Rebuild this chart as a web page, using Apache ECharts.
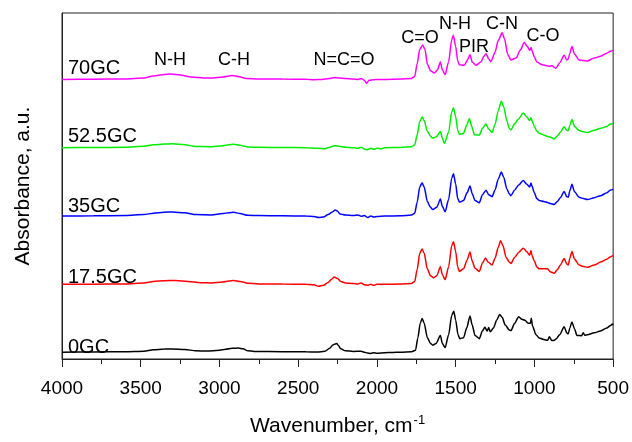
<!DOCTYPE html>
<html>
<head>
<meta charset="utf-8">
<script src="https://cdn.jsdelivr.net/npm/echarts@6/dist/echarts.min.js"></script>
<style>
html,body{margin:0;padding:0;background:#fff;}
#chart{width:632px;height:442px;}
</style>
</head>
<body>
<div id="chart"></div>
<script>
// Series names (bottom to top) and vertical offsets (a.u.)
var seriesNames = ['0GC', '17.5GC', '35GC', '52.5GC', '70GC'];
var seriesColors = ['#000000', '#ff0000', '#0000ff', '#00ee00', '#ff00ff'];
var offsets = [7, 77, 147.5, 218, 288.5];
var xTicks = [4000, 3500, 3000, 2500, 2000, 1500, 1000, 500];

// Spectra: [wavenumber, absorbance above own baseline] (a.u.)
var s0GC = [[4000,0],[3800,0.3],[3600,0.5],[3480,1],[3420,2.5],[3350,3.2],[3300,3.3],[3220,2.8],[3150,1.5],[3080,1.2],[3000,2],[2960,3],[2920,4],[2880,4.3],[2850,3.5],[2820,1.5],[2780,0.8],[2600,0.5],[2450,0.4],[2380,0.2],[2330,1],[2300,4],[2280,7.5],[2265,8.5],[2255,9],[2245,7],[2230,3.5],[2200,1.5],[2150,0.8],[2100,1],[2080,0],[2060,-0.8],[2040,-1.2],[2020,-0.5],[2000,-1],[1950,-0.5],[1900,-0.3],[1850,0],[1780,0.5],[1755,2],[1740,15],[1725,30],[1713,34.7],[1700,30],[1680,15],[1660,9],[1645,7.3],[1625,9],[1597,17.3],[1585,9],[1567,4.7],[1545,18],[1525,38],[1512,42.3],[1500,33],[1485,18],[1474,14],[1450,15],[1430,25],[1409,37.3],[1395,28],[1377,17.3],[1350,14],[1330,22],[1315,25.7],[1300,22],[1290,25.5],[1280,21],[1260,25],[1240,33],[1220,39],[1205,36],[1185,28],[1160,23],[1149,22.3],[1125,30],[1100,36.7],[1080,34],[1060,33],[1040,30],[1025,30],[1020,35],[1012,27],[990,18],[969,14.7],[940,13],[916,12.3],[905,16],[890,12],[874,12.3],[860,14],[840,18],[811,26.3],[795,20],[785,19],[775,25],[762,31.3],[745,24],[730,17.3],[700,17],[690,20],[680,17.5],[663,18],[620,20],[580,22],[540,25],[519,27.3],[505,29],[500,28]];
var s17GC = [[4000,0],[3800,0.2],[3600,0.5],[3480,1.5],[3420,3],[3350,3.8],[3280,4],[3200,3],[3120,1.8],[3050,1.5],[2980,2.5],[2940,3.5],[2910,4],[2870,3],[2820,1.2],[2750,0.5],[2600,0.3],[2450,0.2],[2400,-0.5],[2370,-2],[2340,-1],[2310,2],[2290,5],[2270,7.5],[2250,6],[2230,3],[2200,1.5],[2150,1],[2120,0.5],[2100,1.5],[2080,-0.5],[2060,-1],[2040,0],[2020,-1],[2000,0],[1950,0],[1850,0.3],[1780,1],[1760,3],[1745,15],[1728,32],[1713,36.6],[1700,32],[1680,16],[1660,9],[1640,6.6],[1620,9],[1597,18.3],[1585,10],[1567,5],[1545,18],[1525,40],[1514,44],[1500,34],[1487,18],[1476,13.3],[1450,16],[1428,25],[1409,33.3],[1395,24],[1377,16.6],[1350,13.3],[1330,22],[1310,27.3],[1295,23],[1269,20],[1250,27],[1230,38],[1215,45],[1200,40],[1180,28],[1160,23],[1149,21.6],[1125,28],[1100,33],[1071,37.3],[1050,34],[1030,30],[1022,35],[1016,30],[1000,24],[985,18],[969,16],[950,16],[916,16],[900,13],[874,11.6],[855,15],[835,20],[811,26.6],[795,21],[785,20],[775,27],[762,34],[745,26],[716,20],[690,18.5],[663,17.6],[620,20],[580,23],[540,26],[519,28.3],[500,30]];
var s35GC = [[4000,0],[3800,0.2],[3600,0.5],[3480,1.5],[3420,3],[3350,4],[3300,4.2],[3220,3.3],[3150,1.5],[3050,1.2],[2980,2.5],[2940,3.5],[2910,4],[2870,2.5],[2820,0.8],[2750,0.5],[2600,0.3],[2450,0],[2400,-0.5],[2370,-1.5],[2340,-1],[2310,1.5],[2280,4.5],[2265,6.3],[2250,5],[2235,2],[2200,1],[2150,0.5],[2120,1],[2100,-0.3],[2080,0.5],[2060,-1.5],[2040,0],[2020,-1],[2000,-0.5],[1950,0],[1850,0.3],[1780,1],[1760,3],[1745,14],[1728,30],[1713,34.3],[1700,30],[1680,15],[1660,9],[1645,6.7],[1620,9],[1597,17.7],[1585,10],[1567,4.4],[1545,17],[1525,39],[1514,43.7],[1500,33],[1487,18],[1476,14.4],[1450,16],[1428,24],[1409,31],[1395,23],[1377,16],[1350,13.7],[1330,22],[1307,26.7],[1290,22],[1269,20],[1250,27],[1230,38],[1210,45.4],[1195,40],[1175,28],[1160,23],[1149,21],[1125,27],[1100,32],[1071,36.7],[1050,33],[1030,30],[1022,34],[1016,31],[1000,24],[985,18],[969,16],[940,15],[916,14],[900,13],[874,12],[855,15],[835,19],[811,25.4],[795,20],[785,19.4],[775,26],[762,32.7],[745,25],[716,19.4],[690,18],[663,17],[620,19],[580,21],[540,24],[519,26.7],[500,27.5]];
var s52GC = [[4000,0],[3800,0.2],[3600,0.5],[3480,1.5],[3420,3],[3350,3.8],[3300,4],[3220,3],[3150,1.3],[3050,1],[2980,2],[2940,3],[2910,3.5],[2870,2.5],[2820,0.8],[2750,0.4],[2600,0.2],[2450,0],[2380,-0.5],[2330,-1],[2300,0.5],[2270,2],[2240,1.5],[2200,0.5],[2150,0],[2120,-0.5],[2100,0.5],[2080,-1.5],[2060,-2],[2040,-0.5],[2020,-1.5],[2000,-0.5],[1970,-1],[1950,0],[1850,0.3],[1780,1],[1760,3],[1745,13],[1728,27],[1713,31.7],[1700,28],[1680,17],[1660,12],[1648,10],[1625,11],[1597,16.7],[1585,10],[1572,4.4],[1545,16],[1525,37],[1514,41],[1500,32],[1487,18],[1476,13.7],[1450,15],[1428,24],[1413,30],[1398,22],[1381,13.4],[1350,13],[1330,20],[1307,24.4],[1290,19],[1269,15.7],[1250,24],[1230,38],[1210,48],[1195,42],[1175,28],[1160,20],[1149,18.4],[1125,25],[1100,30],[1071,35.7],[1050,32],[1030,28],[1022,31],[1016,28],[1000,22],[985,17],[969,15],[940,13],[916,11.7],[900,11],[874,9],[855,12],[835,16],[811,21.7],[795,18],[785,17.7],[775,23],[762,29],[745,22],[716,17.7],[690,16.5],[663,15.7],[620,18],[580,20],[540,22],[519,24.4],[500,25]];
var s70GC = [[4000,0],[3800,0.2],[3600,0.5],[3480,1.5],[3420,3.5],[3350,5],[3310,5.5],[3250,4.5],[3180,2.5],[3100,1.5],[3040,1.5],[2980,2.5],[2940,3.5],[2920,4],[2880,3],[2830,1],[2750,0.5],[2600,0.3],[2450,0.2],[2400,-0.3],[2350,0],[2300,1],[2270,2],[2240,1.5],[2200,0.8],[2150,0.3],[2120,0],[2100,0.8],[2080,-1],[2066,-4],[2050,-1],[2020,-0.5],[2000,0],[1950,0],[1850,0.3],[1780,1],[1760,3],[1745,16],[1728,31],[1709,35.5],[1695,31],[1680,16],[1660,9],[1635,6.5],[1615,10],[1597,18],[1585,10],[1567,5],[1545,18],[1525,41],[1515,45.5],[1500,34],[1487,19],[1476,15],[1445,14.5],[1425,20],[1409,25.5],[1395,18],[1371,14.5],[1340,18],[1320,24],[1307,26.5],[1290,21],[1276,18.5],[1250,28],[1230,40],[1205,48],[1190,42],[1170,26],[1149,20],[1117,22],[1090,30],[1065,38],[1045,34],[1030,30],[1020,33],[1014,29],[1000,23],[985,18],[950,15],[906,13.5],[890,14],[864,11.5],[840,17],[811,25],[795,20],[785,21],[775,27],[762,34],[745,26],[716,20],[690,19.5],[665,19],[620,22],[580,24],[540,27],[519,29],[500,30]];
var spectra = [s0GC, s17GC, s35GC, s52GC, s70GC];

// Band annotations
var bandLabels = ['N-H', 'C-H', 'N=C=O', 'C=O', 'N-H', 'PIR', 'C-N', 'C-O'];

var FONT = '"Liberation Sans", Arial, sans-serif';
var chart = echarts.init(document.getElementById('chart'), null, {renderer: 'canvas'});

var series = spectra.map(function (s, i) {
  return {
    name: seriesNames[i],
    type: 'line',
    showSymbol: false,
    symbol: 'none',
    smooth: 0.25,
    smoothMonotone: 'x',
    lineStyle: {color: seriesColors[i], width: 1.5},
    data: s.map(function (p) { return [p[0], p[1] + offsets[i]]; }),
    animation: false
  };
});

// text positions
var seriesLabelPos = [[68, 347], [68, 277], [68, 206], [68, 136], [68, 68]];
var bandPos = [[170, 60], [234, 60], [344, 60], [420, 38], [455, 24], [474, 47], [502, 24], [543, 36]];
var graphics = [];
seriesNames.forEach(function (n, i) {
  graphics.push({type: 'text', left: seriesLabelPos[i][0], top: seriesLabelPos[i][1] - 10,
    style: {text: n, font: '20px ' + FONT, fill: '#000', textVerticalAlign: 'top'}});
});
bandLabels.forEach(function (n, i) {
  graphics.push({type: 'text', x: bandPos[i][0], y: bandPos[i][1],
    style: {text: n, font: '18px ' + FONT, fill: '#000', textAlign: 'center', textVerticalAlign: 'middle'}});
});

chart.setOption({
  animation: false,
  backgroundColor: '#fff',
  grid: {left: 62, right: 18, top: 13, bottom: 72, show: true, borderColor: '#222', borderWidth: 1},
  xAxis: {
    type: 'value', inverse: true, min: 500, max: 4000, interval: 500,
    axisLine: {show: true, lineStyle: {color: '#222', width: 1}},
    axisTick: {show: true, inside: false, length: 8, lineStyle: {color: '#222'}},
    minorTick: {show: true, splitNumber: 2, length: 5, lineStyle: {color: '#222'}},
    splitLine: {show: false},
    axisLabel: {color: '#000', fontSize: 19, fontFamily: FONT, margin: 20,
      formatter: function (v) { return xTicks.indexOf(v) >= 0 ? String(v) : ''; }},
    name: '{a|Wavenumber, cm}{b|-1}',
    nameLocation: 'middle', nameGap: 55,
    nameTextStyle: {rich: {
      a: {fontSize: 21, fontFamily: FONT, color: '#000'},
      b: {fontSize: 13, fontFamily: FONT, color: '#000', verticalAlign: 'top', padding: [0, 0, 12, 1]}
    }}
  },
  yAxis: {
    type: 'value', min: 0, max: 357,
    axisLine: {show: true, lineStyle: {color: '#222', width: 1}},
    axisTick: {show: false}, axisLabel: {show: false}, splitLine: {show: false},
    name: 'Absorbance, a.u.', nameLocation: 'middle', nameGap: 28.5,
    nameTextStyle: {fontSize: 21, fontFamily: FONT, color: '#000'}
  },
  graphic: graphics,
  series: series
});
</script>
</body>
</html>
